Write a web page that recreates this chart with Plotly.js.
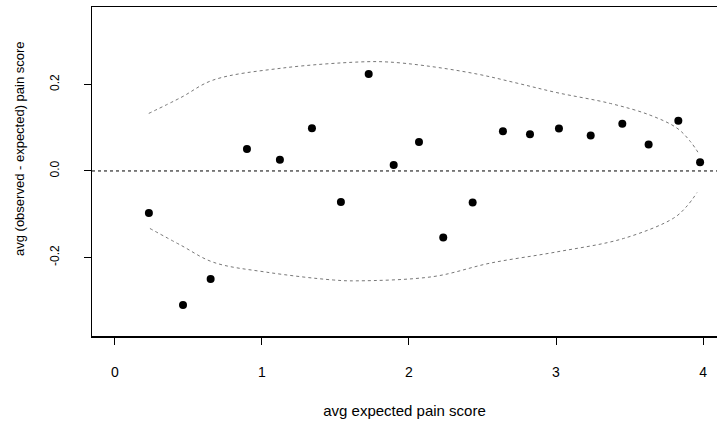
<!DOCTYPE html>
<html>
<head>
<meta charset="utf-8">
<script src="https://cdn.plot.ly/plotly-3.0.1.min.js"></script>
<style>html,body{margin:0;padding:0;background:#fff;}#chart{width:717px;height:423px;}</style>
</head>
<body>
<div id="chart"></div>
<script>
// Observed points
var ptX = [0.231, 0.463, 0.651, 0.898, 1.122, 1.340, 1.537, 1.726, 1.896, 2.068, 2.233, 2.433, 2.639, 2.823, 3.020, 3.236, 3.451, 3.630, 3.832, 3.980];
var ptY = [-0.097, -0.310, -0.250, 0.051, 0.026, 0.099, -0.072, 0.224, 0.014, 0.067, -0.154, -0.073, 0.092, 0.085, 0.098, 0.082, 0.109, 0.061, 0.116, 0.020];
// Upper bound curve
var upX = [0.23, 0.45, 0.667, 1.143, 1.667, 1.85, 2.116, 2.463, 2.735, 3.007, 3.37, 3.64, 3.823, 3.914, 3.977];
var upY = [0.133, 0.170, 0.210, 0.238, 0.252, 0.252, 0.243, 0.224, 0.203, 0.181, 0.156, 0.129, 0.099, 0.068, 0.037];
// Lower bound curve
var loX = [0.238, 0.45, 0.669, 1.032, 1.485, 1.646, 2.168, 2.553, 3.007, 3.46, 3.80, 3.891, 3.959];
var loY = [-0.133, -0.172, -0.211, -0.234, -0.252, -0.254, -0.244, -0.213, -0.187, -0.156, -0.109, -0.081, -0.050];
// Reference line
var refX = [-0.156, 4.095];
var refY = [0, 0];
var xTicks = [0, 1, 2, 3, 4];
var xTickText = ['0', '1', '2', '3', '4'];
var yTicks = [-0.2, 0.0, 0.2];
var yTickText = ['-0.2', '0.0', '0.2'];

var font = 'Liberation Sans, Arial, Helvetica, sans-serif';
var traces = [
  {x: refX, y: refY, mode: 'lines', line: {color: '#000', width: 1, dash: 'dot'}, hoverinfo: 'skip'},
  {x: upX, y: upY, mode: 'lines', line: {color: '#777', width: 1, dash: 'dot', shape: 'spline'}, hoverinfo: 'skip'},
  {x: loX, y: loY, mode: 'lines', line: {color: '#777', width: 1, dash: 'dot', shape: 'spline'}, hoverinfo: 'skip'},
  {x: ptX, y: ptY, mode: 'markers', marker: {color: '#000', size: 8}}
];
var layout = {
  width: 717, height: 423,
  margin: {l: 92, r: 0, t: 7, b: 87},
  paper_bgcolor: '#fff', plot_bgcolor: '#fff',
  showlegend: false,
  font: {family: font, color: '#000'},
  xaxis: {
    range: [-0.156, 4.095], showgrid: false, zeroline: false,
    showline: true, linecolor: '#000', linewidth: 1.5, mirror: true,
    ticks: 'outside', ticklen: 7, tickwidth: 1, tickcolor: '#000',
    tickvals: xTicks, ticktext: xTickText,
    tickfont: {size: 14, family: font}, ticklabelstandoff: 16,
    title: {text: 'avg expected pain score', font: {size: 15, family: font}, standoff: 26}
  },
  yaxis: {
    range: [-0.3815, 0.379], showgrid: false, zeroline: false,
    showline: true, linecolor: '#000', linewidth: 1.5,
    ticks: 'outside', ticklen: 7, tickwidth: 1, tickcolor: '#000',
    tickvals: yTicks, ticktext: yTickText, tickangle: -90,
    tickfont: {size: 12, family: font}, ticklabelstandoff: 20
  },
  annotations: [{
    text: 'avg (observed - expected) pain score', textangle: -90,
    xref: 'paper', yref: 'paper', x: -0.117, y: 0.571, xanchor: 'center', yanchor: 'middle',
    showarrow: false, font: {size: 13, family: font, color: '#000'}
  }]
};
Plotly.newPlot('chart', traces, layout, {displayModeBar: false, staticPlot: true});
</script>
</body>
</html>
